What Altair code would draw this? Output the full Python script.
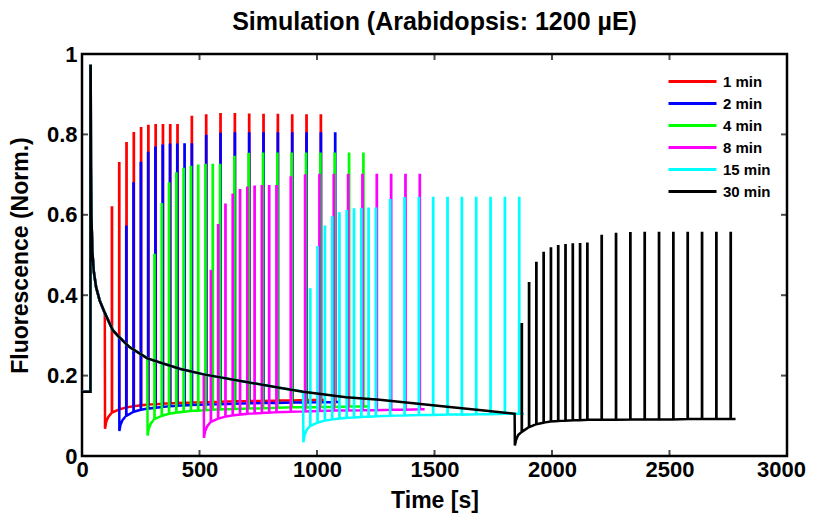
import altair as alt
import pandas as pd

FONT = "Liberation Sans"

series = ["1 min", "2 min", "4 min", "8 min", "15 min", "30 min"]
colors = ["#ff0000", "#0000ff", "#00ff00", "#ff00ff", "#00ffff", "#000000"]

# dark-adapted level and first saturating pulse (shared by all traces)
f0_level = 0.16
fm_time = 36
fm_peak = 0.97

# fluorescence decline under actinic light (shared by all traces)
decay_t = [37, 38, 40, 44, 50, 60, 75, 97, 131, 158, 202, 278, 415, 518,
           699, 840, 941, 1124, 1266, 1400, 1564, 1700, 1841]
decay_v = [0.97, 0.72, 0.60, 0.51, 0.46, 0.42, 0.387, 0.356, 0.313, 0.296,
           0.271, 0.243, 0.217, 0.203, 0.184, 0.170, 0.160, 0.146, 0.140,
           0.132, 0.122, 0.114, 0.105]

# time at which the actinic light is switched off, per trace
light_off = [97, 158, 278, 518, 941, 1841]

# dark recovery: times after light-off of the early points and of the pulses
early_offsets = [1, 6, 15]
pulse_offsets = [30, 61, 92, 123, 154, 185, 216, 247, 278, 309,
                 370, 431, 492, 553, 614, 675, 736, 797, 858, 919]
end_offset = 940
pulse_len = 1

early = {
    "1 min": [0.068, 0.085, 0.097],
    "2 min": [0.062, 0.078, 0.090],
    "4 min": [0.051, 0.068, 0.081],
    "8 min": [0.045, 0.062, 0.074],
    "15 min": [0.034, 0.052, 0.065],
    "30 min": [0.026, 0.040, 0.052],
}
base = {
    "1 min": [0.108, 0.116, 0.121, 0.124, 0.126, 0.128, 0.129, 0.130, 0.131, 0.132,
              0.133, 0.134, 0.135, 0.136, 0.137, 0.137, 0.138, 0.138, 0.139, 0.139],
    "2 min": [0.100, 0.110, 0.115, 0.118, 0.120, 0.122, 0.124, 0.125, 0.126, 0.127,
              0.128, 0.129, 0.130, 0.131, 0.132, 0.132, 0.133, 0.133, 0.134, 0.134],
    "4 min": [0.092, 0.100, 0.105, 0.108, 0.110, 0.112, 0.113, 0.114, 0.115, 0.116,
              0.117, 0.118, 0.119, 0.120, 0.121, 0.121, 0.122, 0.122, 0.123, 0.123],
    "8 min": [0.085, 0.093, 0.098, 0.101, 0.103, 0.105, 0.106, 0.107, 0.108, 0.109,
              0.110, 0.111, 0.112, 0.113, 0.113, 0.114, 0.114, 0.115, 0.115, 0.116],
    "15 min": [0.075, 0.083, 0.088, 0.091, 0.093, 0.095, 0.096, 0.097, 0.098, 0.099,
               0.100, 0.101, 0.102, 0.102, 0.103, 0.103, 0.104, 0.104, 0.105, 0.105],
    "30 min": [0.060, 0.072, 0.079, 0.083, 0.086, 0.087, 0.088, 0.089, 0.089, 0.090,
               0.090, 0.090, 0.091, 0.091, 0.091, 0.091, 0.092, 0.092, 0.092, 0.092],
}
end_level = [0.140, 0.135, 0.124, 0.116, 0.105, 0.092]
peak = {
    "1 min": [0.618, 0.728, 0.778, 0.803, 0.815, 0.821, 0.823, 0.823, 0.823, 0.823,
              0.843, 0.847, 0.850, 0.850, 0.849, 0.848, 0.848, 0.847, 0.847, 0.847],
    "2 min": [0.570, 0.678, 0.729, 0.754, 0.767, 0.772, 0.774, 0.774, 0.775, 0.775,
              0.796, 0.801, 0.802, 0.802, 0.802, 0.802, 0.802, 0.802, 0.802, 0.802],
    "4 min": [0.500, 0.626, 0.678, 0.703, 0.714, 0.719, 0.722, 0.724, 0.724, 0.724,
              0.744, 0.751, 0.752, 0.752, 0.752, 0.752, 0.752, 0.752, 0.752, 0.752],
    "8 min": [0.460, 0.574, 0.625, 0.650, 0.661, 0.667, 0.670, 0.671, 0.671, 0.671,
              0.693, 0.698, 0.699, 0.699, 0.699, 0.699, 0.699, 0.699, 0.699, 0.699],
    "15 min": [0.414, 0.519, 0.570, 0.593, 0.603, 0.609, 0.613, 0.614, 0.615, 0.615,
               0.636, 0.641, 0.642, 0.642, 0.642, 0.642, 0.642, 0.642, 0.642, 0.642],
    "30 min": [0.328, 0.430, 0.480, 0.505, 0.516, 0.522, 0.524, 0.526, 0.527, 0.528,
               0.547, 0.552, 0.554, 0.555, 0.555, 0.555, 0.555, 0.555, 0.555, 0.555],
}

x_ticks = [0, 500, 1000, 1500, 2000, 2500, 3000]
y_ticks = [0, 0.2, 0.4, 0.6, 0.8, 1.0]

# ---- assemble the traces ----
rows = []
for si, s in enumerate(series):
    pts = [(0, f0_level), (fm_time, f0_level), (fm_time, fm_peak)]
    off = light_off[si]
    pts += [(t, v) for t, v in zip(decay_t, decay_v) if t <= off]
    pts += [(off + o, v) for o, v in zip(early_offsets, early[s])]
    for o, b, p in zip(pulse_offsets, base[s], peak[s]):
        t = off + o
        pts += [(t, b), (t, p), (t + pulse_len, p), (t + pulse_len, b)]
    pts.append((off + end_offset, end_level[si]))
    for i, (t, v) in enumerate(pts):
        rows.append({"series": s, "t": t, "v": v, "i": i})
df = pd.DataFrame(rows)

x_enc = alt.X("t:Q", scale=alt.Scale(domain=[0, 3000], nice=False, zero=False),
              axis=alt.Axis(values=x_ticks, format="d", ticks=False, tickSize=0, domain=False,
                            grid=False, labelFlush=False, labelFont=FONT, labelFontSize=22,
                            labelFontWeight="bold", labelColor="black", labelPadding=3,
                            labelOffset={"condition": {"test": "datum.value == 3000",
                                                       "value": -6}, "value": 0},
                            title="Time [s]", titleFont=FONT, titleFontSize=23,
                            titleFontWeight="bold", titleColor="black", titlePadding=9))
y_enc = alt.Y("v:Q", scale=alt.Scale(domain=[0, 1], nice=False, zero=False),
              axis=alt.Axis(values=y_ticks, format="~g", ticks=False, tickSize=0, domain=False,
                            grid=False, labelFont=FONT, labelFontSize=22,
                            labelFontWeight="bold", labelColor="black", labelPadding=5,
                            title="Fluorescence (Norm.)", titleFont=FONT, titleFontSize=23,
                            titleFontWeight="bold", titleColor="black", titlePadding=14))
color_enc = alt.Color("series:N",
                      scale=alt.Scale(domain=series, range=colors),
                      legend=alt.Legend(title=None, orient="none", legendX=621, legendY=20,
                                        symbolType="M-7,0H1", symbolSize=144,
                                        symbolStrokeWidth=3, labelFont=FONT,
                                        labelFontSize=15, labelFontWeight="bold",
                                        labelColor="black", labelOffset=5, rowPadding=6,
                                        padding=0))

layers = []
for s in series:
    layers.append(
        alt.Chart(df).transform_filter(alt.datum.series == s)
        .mark_line(strokeWidth=2.5, interpolate="linear")
        .encode(x=x_enc, y=y_enc, color=color_enc, order="i:Q")
    )

# inward tick marks on all four sides
tick_len = 6
bottom = pd.DataFrame({"t": x_ticks, "v": [0] * len(x_ticks)})
top = pd.DataFrame({"t": x_ticks, "v": [1] * len(x_ticks)})
left = pd.DataFrame({"t": [0] * len(y_ticks), "v": y_ticks})
right = pd.DataFrame({"t": [3000] * len(y_ticks), "v": y_ticks})
layers.append(alt.Chart(bottom).mark_tick(orient="vertical", size=tick_len, thickness=2,
                                          color="black", yOffset=-tick_len / 2)
              .encode(x=x_enc, y=y_enc))
layers.append(alt.Chart(top).mark_tick(orient="vertical", size=tick_len, thickness=2,
                                       color="black", yOffset=tick_len / 2)
              .encode(x=x_enc, y=y_enc))
layers.append(alt.Chart(left).mark_tick(orient="horizontal", size=tick_len, thickness=2,
                                        color="black", xOffset=tick_len / 2)
              .encode(x=x_enc, y=y_enc))
layers.append(alt.Chart(right).mark_tick(orient="horizontal", size=tick_len, thickness=2,
                                         color="black", xOffset=-tick_len / 2)
              .encode(x=x_enc, y=y_enc))

chart = alt.layer(*layers).properties(
    width=705, height=402,
    title=alt.TitleParams("Simulation (Arabidopsis: 1200 \u00b5E)", font=FONT, fontSize=25,
                          fontWeight="bold", color="black", anchor="middle", frame="group",
                          offset=8),
    padding={"left": 74, "top": 46, "right": 20, "bottom": 58},
    autosize=alt.AutoSizeParams(type="none"),
).configure_view(stroke="black", strokeWidth=2.5)

chart.save("out.html", embed_options={"renderer": "svg", "actions": False})
